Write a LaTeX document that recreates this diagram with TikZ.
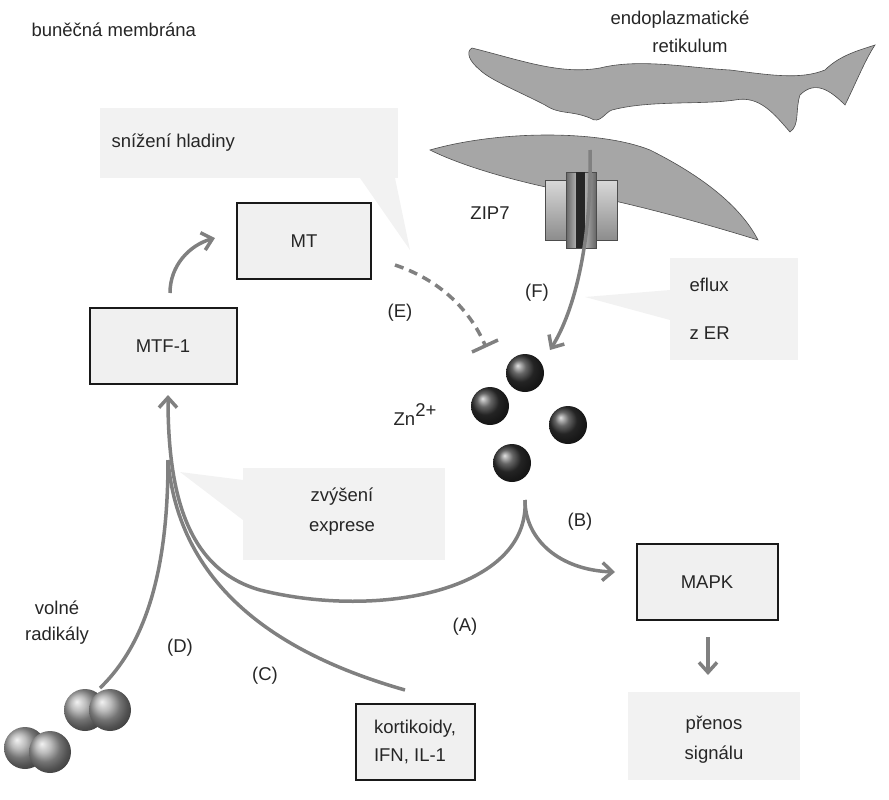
\documentclass[tikz,border=0pt]{standalone}
\usepackage{fontspec}
\setmainfont{Liberation Sans}
\usetikzlibrary{arrows.meta}
\begin{document}
\begin{tikzpicture}[x=1pt,y=-1pt,
  every node/.style={font=\fontsize{18.5}{22}\selectfont,text=black!85},
  box/.style={draw=black!90,line width=2pt,fill=black!6,minimum width=#1,minimum height=76,inner sep=0},
  arr/.style={draw=black!50,line width=3.5pt,-{Straight Barb[length=10pt,width=18pt]}},
  zn/.style={circle,minimum size=38,inner sep=0,shading=ball,ball color=black!80},
  rad/.style={circle,minimum size=42,inner sep=0,shading=ball,ball color=black!35}]
\useasboundingbox (0,0) rectangle (889,800);
% callouts
\fill[black!5] (100,108) rectangle (398,178);
\fill[black!5] (360,178) -- (410,250) -- (395,178) -- cycle;
\fill[black!5] (670,258) rectangle (798,360);
\fill[black!5] (670,290) -- (585,297) -- (670,320) -- cycle;
\fill[black!5] (243,468) rectangle (445,560);
\fill[black!5] (243,480) -- (180,472) -- (243,520) -- cycle;
\fill[black!5] (628,692) rectangle (800,780);
\node[anchor=west] (tm) at (108,143) {snížení hladiny};
\node[anchor=west] (tef) at (686,285) {eflux};
\node[anchor=west] (ter) at (686,333) {z ER};
\node (tz1) at (342,497) {zvýšení};
\node (tz2) at (342,528) {exprese};
\node (tp1) at (714,725) {přenos};
\node (tp2) at (714,755) {signálu};
% ER
\filldraw[fill=black!35,draw=black!70,line width=0.6pt]
 (472,48) .. controls (520,60) and (560,75) .. (600,68)
 .. controls (640,58) and (690,68) .. (730,70)
 .. controls (770,75) and (800,80) .. (825,70)
 .. controls (840,55) and (860,50) .. (875,45)
 .. controls (865,60) and (855,85) .. (845,105)
 .. controls (830,90) and (815,80) .. (800,95)
 .. controls (795,110) and (800,125) .. (790,132)
 .. controls (775,115) and (760,95) .. (735,100)
 .. controls (700,105) and (650,100) .. (612,110)
 .. controls (605,112) and (600,125) .. (590,118)
 .. controls (570,110) and (560,115) .. (545,105)
 .. controls (520,92) and (490,80) .. (480,70)
 .. controls (470,62) and (465,52) .. (472,48) -- cycle;
\filldraw[fill=black!35,draw=black!70,line width=0.6pt]
 (430,150) .. controls (500,130) and (600,130) .. (650,150)
 .. controls (700,175) and (740,205) .. (758,240)
 .. controls (700,222) and (620,200) .. (560,190)
 .. controls (510,180) and (460,165) .. (430,150) -- cycle;
% ZIP7
\shade[top color=black!15,bottom color=black!45,draw=black!70] (545,180) rectangle (568,240);
\shade[top color=black!15,bottom color=black!45,draw=black!70] (594,180) rectangle (617,240);
\shade[left color=black!60,right color=black!20,draw=black!70] (566,172) rectangle (580,248);
\shade[left color=black!20,right color=black!60,draw=black!70] (580,172) rectangle (596,248);
\fill[black!85] (576,172) rectangle (585,248);
\node (zip) at (490,213) {ZIP7};
% texts
\node[anchor=west] (mem) at (28,30) {buněčná membrána};
\node (er1) at (680,20) {endoplazmatické};
\node (er2) at (690,46) {retikulum};
\node (znt) at (415,415) {Zn\raisebox{9pt}{2+}};
\node (vr1) at (57,608) {volné};
\node (vr2) at (57,636) {radikály};
% boxes
\node[box=134] (mt) at (304,241) {MT};
\node[box=147] (mtf) at (163,346) {MTF-1};
\node[box=141] (mapk) at (707,582) {MAPK};
\node[box=119,align=left,minimum height=76] (kor) at (415,742) {kortikoidy,\\[6pt]IFN, IL-1};
% Zn
\node[zn] (z1) at (525,373) {};
\node[zn] (z2) at (490,406) {};
\node[zn] (z3) at (568,425) {};
\node[zn] (z4) at (512,463) {};
% radicals
\node[rad] (r1) at (85,710) {};
\node[rad] (r2) at (110,710) {};
\node[rad] (r3) at (25,748) {};
\node[rad] (r4) at (50,752) {};
% coordinates
\coordinate (mtfb) at (168,395);
\coordinate (zb) at (525,500);
\coordinate (chan) at (590,150);
\coordinate (kt) at (405,690);
\coordinate (rt) at (100,688);
% arrows
\draw[arr] (170,293) .. controls (170,265) and (190,245) .. (215,238);
\draw[draw=black!50,line width=3.5pt,dash pattern=on 9pt off 6pt] (395,265) .. controls (440,280) and (470,310) .. (485,345);
\draw[black!50,line width=3.5pt] (472,352) -- (498,340);
\draw[arr] (chan) .. controls (592,240) and (575,310) .. (550,350);
\draw[arr] (zb) .. controls (525,540) and (560,570) .. (615,572);
\draw[arr] (zb) .. controls (530,590) and (380,620) .. (260,590) .. controls (190,570) and (168,500) .. (mtfb);
\draw[draw=black!50,line width=3.5pt] (kt) .. controls (300,660) and (180,600) .. (168,460);
\draw[draw=black!50,line width=3.5pt] (rt) .. controls (150,640) and (168,560) .. (168,460);
\draw[arr] (708,637) -- (708,675);
% labels
\node (la) at (465,627) {(A)};
\node (lb) at (580,522) {(B)};
\node (lc) at (265,676) {(C)};
\node (ld) at (180,648) {(D)};
\node (le) at (400,313) {(E)};
\node (lf) at (537,293) {(F)};
\end{tikzpicture}
\end{document}
